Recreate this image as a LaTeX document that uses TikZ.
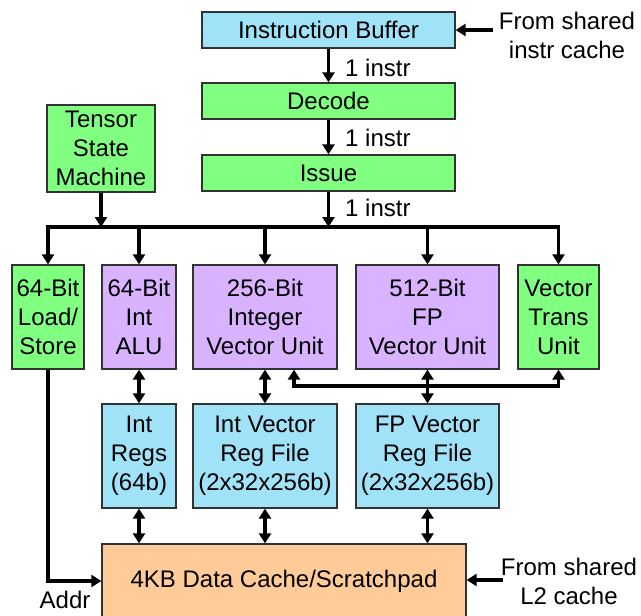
\documentclass[tikz,border=0pt]{standalone}
\usepackage{fontspec}
\setmainfont{Liberation Sans}
\usetikzlibrary{arrows.meta}
\definecolor{cblue}{RGB}{160,226,248}
\definecolor{cgreen}{RGB}{128,255,128}
\definecolor{cpurple}{RGB}{217,179,255}
\definecolor{corange}{RGB}{255,204,153}
\definecolor{cborder}{RGB}{50,50,50}
\begin{document}
\begin{tikzpicture}[x=1pt,y=-1pt,
  box/.style={draw=cborder, line width=1.3pt, inner sep=0pt, align=center,
    font=\fontsize{24}{29}\selectfont},
  lbl/.style={inner sep=0pt, align=center, font=\fontsize{24}{29}\selectfont},
  conn/.style={line width=3.5pt, line join=miter},
  arr/.style={conn, -{Triangle[length=10pt,width=12pt]}},
  dbl/.style={conn, {Triangle[length=10pt,width=12pt]}-{Triangle[length=10pt,width=12pt]}}
]
\useasboundingbox (0,0) rectangle (641,616);
% top pipeline
\node[box, fill=cblue, minimum width=253pt, minimum height=36pt] (ib) at (328.5,30) {Instruction Buffer};
\node[box, fill=cgreen, minimum width=253pt, minimum height=36pt] (dec) at (328.5,101) {Decode};
\node[box, fill=cgreen, minimum width=253pt, minimum height=36pt] (iss) at (328.5,173) {Issue};
\node[box, fill=cgreen, minimum width=108pt, minimum height=87pt] (tsm) at (101,148.5) {Tensor\\State\\Machine};
% units
\node[box, fill=cgreen, minimum width=72pt, minimum height=104pt] (ls) at (48,317) {64-Bit\\Load/\\Store};
\node[box, fill=cpurple, minimum width=74pt, minimum height=104pt] (alu) at (139,317) {64-Bit\\Int\\ALU};
\node[box, fill=cpurple, minimum width=144pt, minimum height=104pt] (ivu) at (265,317) {256-Bit\\Integer\\Vector Unit};
\node[box, fill=cpurple, minimum width=143pt, minimum height=104pt] (fpvu) at (427.5,317) {512-Bit\\FP\\Vector Unit};
\node[box, fill=cgreen, minimum width=81pt, minimum height=104pt] (vt) at (558.5,317) {Vector\\Trans\\Unit};
% register files
\node[box, fill=cblue, minimum width=74pt, minimum height=104pt] (ireg) at (139,456) {Int\\Regs\\(64b)};
\node[box, fill=cblue, minimum width=144pt, minimum height=104pt] (ivrf) at (265,456) {Int Vector\\Reg File\\(2x32x256b)};
\node[box, fill=cblue, minimum width=143pt, minimum height=104pt] (fprf) at (427.5,456) {FP Vector\\Reg File\\(2x32x256b)};
% cache
\node[box, fill=corange, minimum width=364pt, minimum height=74pt] (cache) at (284,581) {4KB Data Cache/Scratchpad};
% labels
\node[lbl, anchor=west] (l1) at (345,68) {1 instr};
\node[lbl, anchor=west] (l2) at (345,138) {1 instr};
\node[lbl, anchor=west] (l3) at (345,208) {1 instr};
\node[lbl] (src1t) at (567,35) {From shared\\instr cache};
\node[lbl] (src2t) at (569,581) {From shared\\L2 cache};
\node[lbl] (addr) at (65,600) {Addr};
% coordinates
\coordinate (bus) at (0,227);
\coordinate (src1) at (493,30);
\coordinate (src2) at (503,580);
\coordinate (h1) at (294,386);
% pipeline arrows
\draw[arr] (src1) -- (ib.east);
\draw[arr] (ib.south) -- (dec.north);
\draw[arr] (dec.south) -- (iss.north);
\draw[arr] (iss.south) -- (iss.south |- bus);
\draw[arr] (tsm.south) -- (tsm.south |- bus);
% bus
\draw[arr] (ivu.north |- bus) -- (ls.north |- bus) -- (ls.north);
\draw[arr] (ivu.north |- bus) -- (vt.north |- bus) -- (vt.north);
\draw[arr] (alu.north |- bus) -- (alu.north);
\draw[arr] (ivu.north |- bus) -- (ivu.north);
\draw[arr] (fpvu.north |- bus) -- (fpvu.north);
% unit <-> regs
\draw[dbl] (alu.south) -- (ireg.north);
\draw[dbl] (ivu.south) -- (ivrf.north);
\draw[dbl] (ivu.south -| h1) -- (h1) -- (vt.south |- h1) -- (vt.south);
\draw[dbl] (fpvu.south) -- (fprf.north);
% regs <-> cache
\draw[dbl] (ireg.south) -- (ireg.south |- cache.north);
\draw[dbl] (ivrf.south) -- (ivrf.south |- cache.north);
\draw[dbl] (fprf.south) -- (fprf.south |- cache.north);
% load/store address
\draw[arr] (ls.south) -- (ls.south |- cache.west) -- (cache.west);
\draw[arr] (src2) -- (src2 -| cache.east);
\end{tikzpicture}
\end{document}
